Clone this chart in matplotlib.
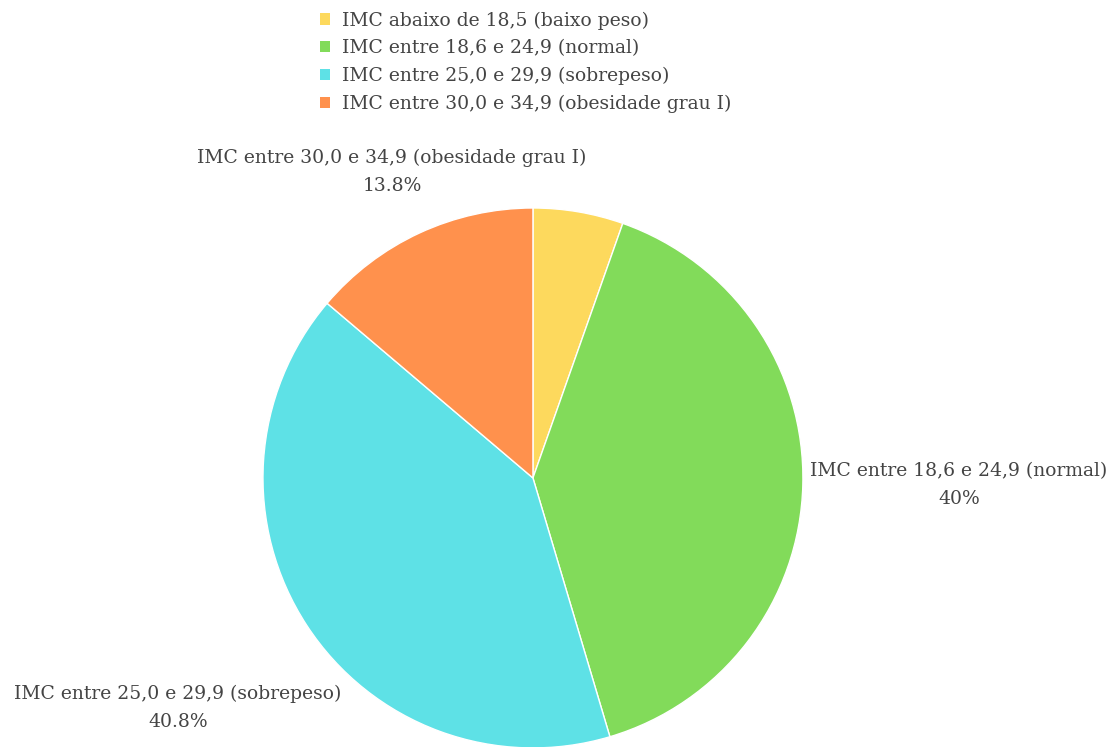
import matplotlib.pyplot as plt
from matplotlib.patches import Patch

# Data
labels = ["IMC abaixo de 18,5 (baixo peso)",
          "IMC entre 18,6 e 24,9 (normal)",
          "IMC entre 25,0 e 29,9 (sobrepeso)",
          "IMC entre 30,0 e 34,9 (obesidade grau I)"]
values = [5.4, 40, 40.8, 13.8]
pct_text = ["5.4%", "40%", "40.8%", "13.8%"]
show_label = [False, True, True, True]
colors = ["#FDD95D", "#82DB5A", "#5EE1E6", "#FF914D"]

plt.rcParams['font.family'] = ['DejaVu Serif']
text_color = "#444444"

fig = plt.figure(figsize=(11.11, 7.47), dpi=100)
ax = fig.add_axes([0.2367, -0.0013, 0.486, 0.7229])

wedges, _ = ax.pie(values, colors=colors, startangle=90, counterclock=False,
                   radius=1, wedgeprops=dict(edgecolor="white", linewidth=1))
ax.set_xlim(-1, 1)
ax.set_ylim(-1, 1)
ax.set_aspect("equal")
ax.axis("off")

# outside labels (label text + percentage)
label_pos = [None, (1.578, -0.026), (-1.315, -0.852), (-0.522, 1.133)]
for lab, pct, show, pos in zip(labels, pct_text, show_label, label_pos):
    if not show:
        continue
    ax.text(pos[0], pos[1], lab + "\n" + pct, ha="center", va="center",
            fontsize=13.5, color=text_color, linespacing=1.72, clip_on=False)

handles = [Patch(facecolor=c, edgecolor="none") for c in colors]
fig.legend(handles, labels, loc="upper center", bbox_to_anchor=(0.473, 1.005),
           frameon=False, fontsize=13.5, labelcolor=text_color,
           handlelength=0.55, handleheight=0.55, handletextpad=0.6,
           labelspacing=0.52, borderpad=0.3)

fig.savefig("out.png", dpi=100)
